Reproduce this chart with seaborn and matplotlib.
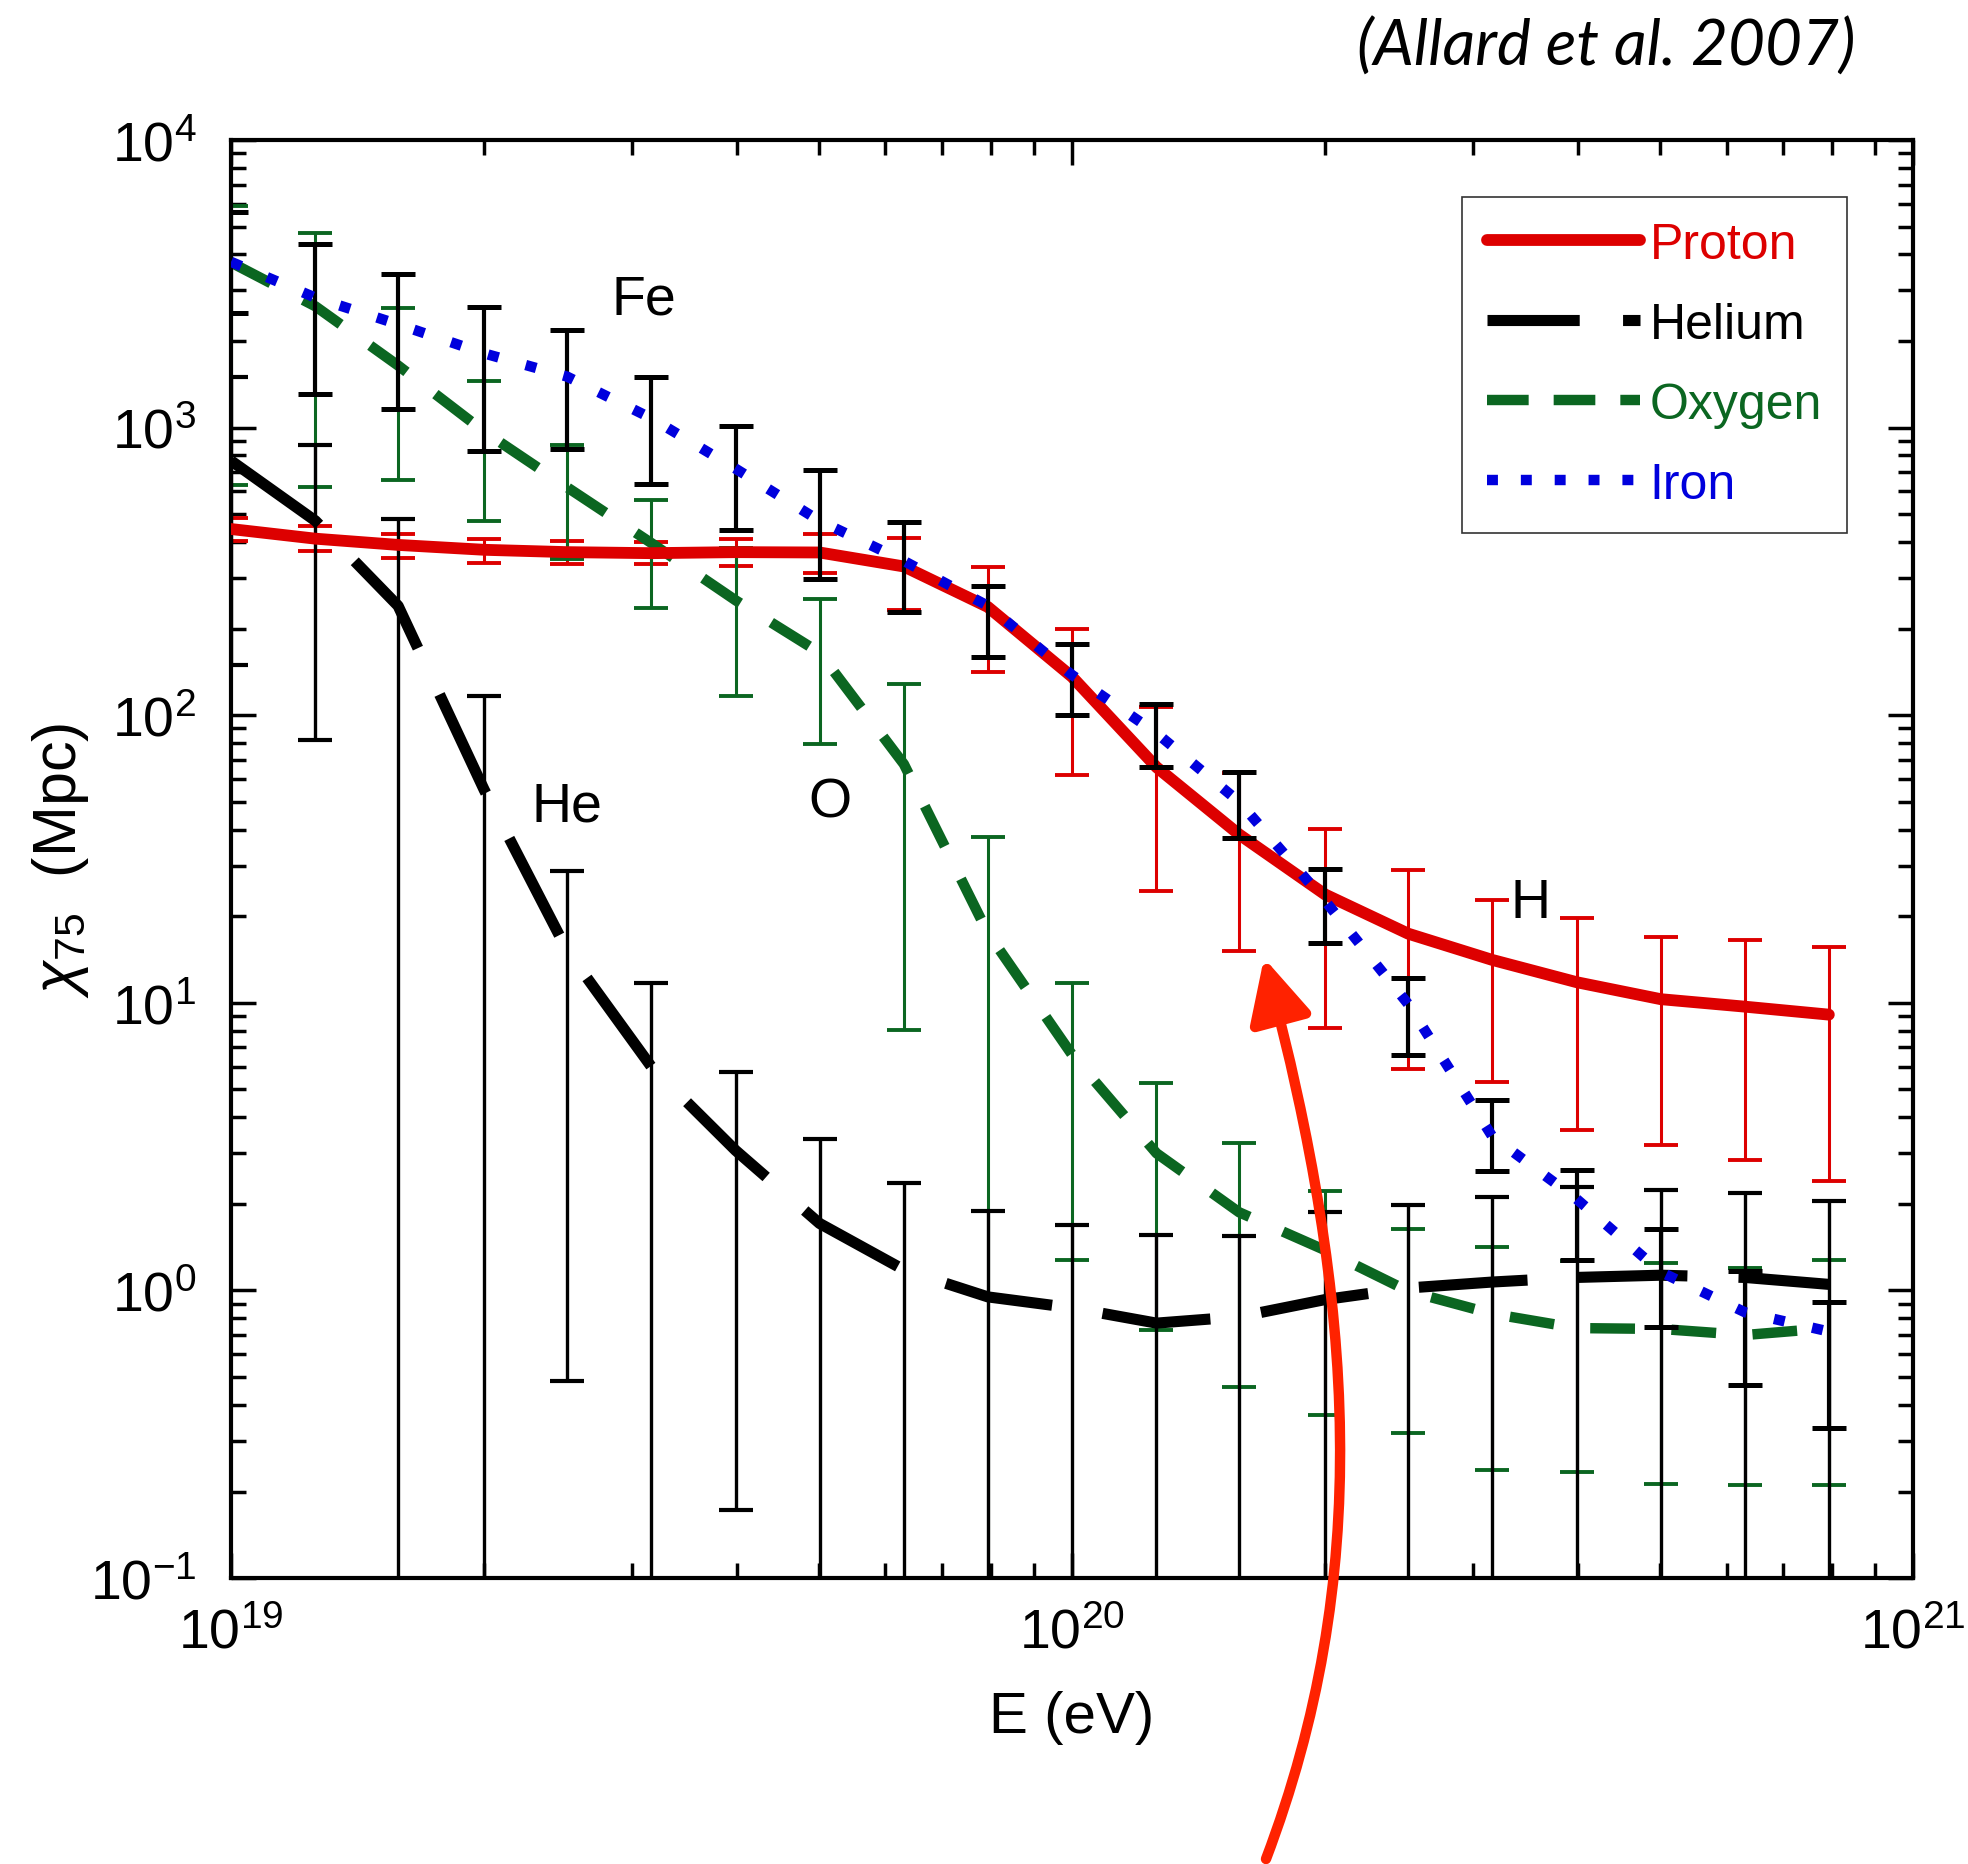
import numpy as np
import pandas as pd
import seaborn as sns
import matplotlib.pyplot as plt
from matplotlib.path import Path
from matplotlib.patches import FancyArrowPatch
from matplotlib.ticker import NullFormatter

# energy grid (eV)
energy = [1.0e19, 1.26e19, 1.58e19, 2.0e19, 2.51e19, 3.16e19, 3.98e19, 5.01e19, 6.31e19, 7.94e19,
          1.0e20, 1.26e20, 1.58e20, 2.0e20, 2.51e20, 3.16e20, 3.98e20, 5.01e20, 6.31e20, 7.94e20]

# chi_75 (Mpc) for each species
proton = [444, 411, 391, 376, 369, 366, 369, 368, 329, 238,
          136, 66, 38.5, 23.8, 17.4, 14.1, 11.8, 10.3, 9.7, 9.1]
helium = [767, 474, 240, 55, 15.2, 6.0, 3.07, 1.71, 1.18, 0.95,
          0.87, 0.77, 0.81, 0.93, 1.02, 1.07, 1.11, 1.13, 1.11, 1.05]
oxygen = [3750, 2640, 1644, 969, 620, 397, 251, 165, 67.6, 17.5,
          6.6, 3.0, 1.87, 1.38, 0.995, 0.83, 0.74, 0.735, 0.70, 0.74]
iron = [3770, 2830, 2286, 1811, 1504, 1078, 720, 474, 344, 240,
        138, 86.7, 50, 22.6, 9.9, 3.43, 2.08, 1.16, 0.84, 0.72]

# error bar ends (0.01 = bar runs off the bottom of the plot)
proton_hi = [485, 454, 426, 411, 404, 400, 410, 426, 414, 328,
             200, 107, 63, 40.2, 29, 22.8, 19.7, 16.9, 16.6, 15.6]
proton_lo = [404, 373, 353, 337, 336, 335, 330, 312, 233, 141,
             62, 24.4, 15.1, 8.2, 5.9, 5.3, 3.6, 3.2, 2.85, 2.4]
helium_hi = [1500, 869, 483, 117, 28.7, 11.7, 5.77, 3.36, 2.37, 1.89,
             1.69, 1.56, 1.55, 1.87, 1.99, 2.11, 2.29, 2.24, 2.19, 2.04]
helium_lo = [150, 82, 0.01, 0.01, 0.486, 0.01, 0.172, 0.01, 0.01, 0.01,
             0.01, 0.01, 0.01, 0.01, 0.01, 0.01, 0.01, 0.01, 0.01, 0.01]
oxygen_hi = [5900, 4750, 2610, 1451, 869, 561, 382, 253, 128, 37.6,
             11.7, 5.25, 3.25, 2.22, 1.63, 1.42, 1.27, 1.25, 1.2, 1.28]
oxygen_lo = [630, 620, 657, 474, 350, 236, 117, 79.5, 8.06, 0.01,
             1.28, 0.73, 0.46, 0.37, 0.32, 0.238, 0.234, 0.213, 0.21, 0.21]
iron_hi = [5600, 4350, 3410, 2636, 2190, 1504, 1011, 714, 469, 282,
           177, 109, 63.5, 29.1, 12.2, 4.6, 2.62, 1.63, 1.17, 0.91]
iron_lo = [2500, 1312, 1158, 830, 845, 638, 441, 298, 229, 159,
           100, 65.9, 37.3, 16.2, 6.6, 2.6, 1.28, 0.745, 0.47, 0.333]

species = ["Proton", "Helium", "Oxygen", "Iron"]
colors = {"Proton": "#dd0000", "Helium": "black", "Oxygen": "#0b6621", "Iron": "#0000dd"}
widths = {"Proton": 8.5, "Helium": 8.0, "Oxygen": 7.5, "Iron": 7.5}
dash_styles = {"Proton": "", "Helium": (9.8, 4.6), "Oxygen": (4.3, 3.5), "Iron": (1.05, 2.7)}
legend_dashes = {"Helium": (8.3, 3.9), "Oxygen": (4.0, 2.4), "Iron": (1.05, 2.2)}

# element labels on the plot
tag_text = ["Fe", "He", "O", "H"]
tag_x = [3.10e19, 2.51e19, 5.15e19, 3.51e20]
tag_y = [2780, 48.3, 49.9, 22.2]

df = pd.DataFrame({
    "E": energy * 4,
    "chi": proton + helium + oxygen + iron,
    "species": sum([[s] * len(energy) for s in species], []),
})

sns.set_style("ticks")
plt.rcParams["font.family"] = ["Liberation Sans", "DejaVu Sans"]
plt.rcParams["mathtext.fontset"] = "custom"
plt.rcParams["mathtext.rm"] = "Liberation Sans"
plt.rcParams["mathtext.it"] = "Liberation Sans:italic"
plt.rcParams["axes.unicode_minus"] = False
for key in ["text.color", "axes.labelcolor", "xtick.color", "ytick.color", "axes.edgecolor"]:
    plt.rcParams[key] = "black"

fig = plt.figure(figsize=(19.68, 18.65), dpi=100)
ax = fig.add_axes([0.1174, 0.1533, 0.8547, 0.7711])
ax.set_xscale("log")
ax.set_yscale("log")

order = ["Helium", "Oxygen", "Proton", "Iron"]
sns.lineplot(data=df, x="E", y="chi", hue="species", style="species", size="species",
             hue_order=order, style_order=order, size_order=order,
             palette=colors, dashes=dash_styles, sizes=widths,
             estimator=None, sort=False, legend=False, ax=ax)
line_map = dict(zip(order, list(ax.lines)))
for name, ln in line_map.items():
    ln.set_dash_capstyle("butt")
    ln.set_zorder(4 if name == "Iron" else 3)

# error bars
err_sets = [
    (proton, proton_lo, proton_hi, colors["Proton"], 2.2, 2),
    (oxygen, oxygen_lo, oxygen_hi, colors["Oxygen"], 2.2, 2),
    (helium, helium_lo, helium_hi, "black", 2.4, 2.1),
    (iron, iron_lo, iron_hi, "black", 3.0, 3.5),
]
for mid, lo, hi, col, lw, z in err_sets:
    mid = np.array(mid)
    yerr = [mid - np.array(lo), np.array(hi) - mid]
    ax.errorbar(energy, mid, yerr=yerr, fmt="none", ecolor=col, elinewidth=lw,
                capsize=12, capthick=lw + 0.6, zorder=z)

for t, x, y in zip(tag_text, tag_x, tag_y):
    ax.text(x, y, t, fontsize=40, ha="center", va="center", color="black", zorder=6)

ax.set_xlim(1e19, 1e21)
ax.set_ylim(0.1, 1e4)
ax.xaxis.set_minor_formatter(NullFormatter())
ax.yaxis.set_minor_formatter(NullFormatter())
ax.tick_params(which="major", direction="in", length=18, width=2.5, top=True, right=True,
               labelsize=40, color="black", labelcolor="black")
ax.tick_params(axis="x", which="major", pad=21)
ax.tick_params(axis="y", which="major", pad=25)
ax.tick_params(which="minor", direction="in", length=11, width=2.5, top=True, right=True,
               color="black")
for s in ax.spines.values():
    s.set_linewidth(3)
    s.set_color("black")

ax.set_xlabel("E (eV)", fontsize=42)
ax.set_ylabel(r"$\chi_{75}$  (Mpc)", fontsize=44)
ax.xaxis.set_label_coords(0.5, -0.078)
ax.yaxis.set_label_coords(-0.083, 0.5)

leg = ax.legend([line_map[s] for s in species], species, loc="upper right",
                bbox_to_anchor=(0.9608, 0.9604), borderaxespad=0, fontsize=36,
                handlelength=3.06, handletextpad=0.2, labelspacing=0.68, borderpad=0.5,
                fancybox=False, framealpha=1, edgecolor="#333333")
leg.get_frame().set_linewidth(1.2)
for txt, h, s in zip(leg.get_texts(), leg.legend_handles, species):
    txt.set_color(colors[s])
    if s in legend_dashes:
        h.set_dashes(legend_dashes[s])

fig.text(0.9426, 0.975, "(Allard et al. 2007)", ha="right", va="center", fontsize=46,
         style="italic", color="black", family=["Lato", "DejaVu Sans"])

# curved arrow pointing at the proton/iron crossing
arrow_pts = [(1266, 1860), (1372, 1580), (1357, 1309), (1264, 959)]
arrow_path = Path([(px / 1968, 1 - py / 1865) for px, py in arrow_pts],
                  [Path.MOVETO, Path.CURVE4, Path.CURVE4, Path.CURVE4])
arrow = FancyArrowPatch(path=arrow_path, arrowstyle="-|>", mutation_scale=95,
                        color="#ff2200", linewidth=7.5, transform=fig.transFigure, zorder=10)
fig.add_artist(arrow)

fig.savefig("out.png", dpi=100)
